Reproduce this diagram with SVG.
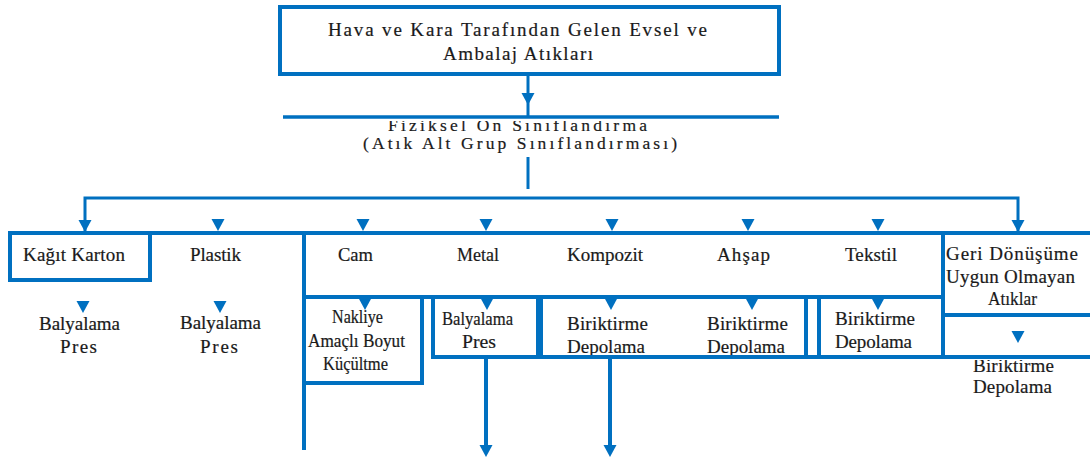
<svg xmlns="http://www.w3.org/2000/svg" xmlns:xlink="http://www.w3.org/1999/xlink" width="1090" height="458" viewBox="0 0 1090 458">
<style>
.txt text{font-family:'Liberation Serif','DejaVu Serif',serif;font-size:19px;fill:#1a1a1a;stroke:#1a1a1a;stroke-width:0.2px}
.txt text.c{font-size:18px}
.txt text.s{font-size:17.5px}
.box{fill:none;stroke:#0070C0;stroke-width:4}
.ln{fill:none;stroke:#0070C0;stroke-width:3.5}
.th{fill:none;stroke:#0070C0;stroke-width:3}
.tri{fill:#0070C0}
</style>
<defs>
<path id="t" class="tri" d="M-6.5,0 L6.5,0 L0,12 Z"/>
<clipPath id="clipTop"><rect x="0" y="121" width="1090" height="40"/></clipPath>
<clipPath id="clipG"><rect x="945" y="360" width="145" height="60"/></clipPath>
<clipPath id="clipB"><rect x="430" y="290" width="520" height="65"/></clipPath>
</defs>
<rect width="1090" height="458" fill="#fff"/>
<g class="txt" font-family="Liberation Serif, DejaVu Serif, serif">

<g id="source">
<rect class="box" x="280" y="7" width="499" height="67"/>
<text x="328" y="36" textLength="379" lengthAdjust="spacing">Hava ve Kara Tarafından Gelen Evsel ve</text>
<text x="443" y="60" textLength="150" lengthAdjust="spacing">Ambalaj Atıkları</text>
</g>

<g id="classification">
<text class="s" x="388" y="131" textLength="259" lengthAdjust="spacing" clip-path="url(#clipTop)">Fiziksel Ön Sınıflandırma</text>
<text class="s" x="363" y="149" textLength="314" lengthAdjust="spacing">(Atık Alt Grup Sınıflandırması)</text>
</g>

<g id="kagit">
<rect class="box" x="10" y="233" width="140" height="47"/>
<text x="23" y="261" textLength="102" lengthAdjust="spacing">Kağıt Karton</text>
<use xlink:href="#t" x="83" y="301"/>
<text x="39" y="330" textLength="81" lengthAdjust="spacing">Balyalama</text>
<text x="60" y="353" textLength="37" lengthAdjust="spacing">Pres</text>
</g>

<g id="plastik">
<text x="190" y="261" textLength="51" lengthAdjust="spacing">Plastik</text>
<use xlink:href="#t" x="220" y="301"/>
<text x="180" y="329" textLength="81" lengthAdjust="spacing">Balyalama</text>
<text x="200" y="353" textLength="38" lengthAdjust="spacing">Pres</text>
</g>

<g id="cam">
<text x="338" y="261" textLength="35" lengthAdjust="spacingAndGlyphs">Cam</text>
<rect class="box" x="304" y="297" width="118" height="86"/>
<text class="c" x="332" y="323" textLength="51" lengthAdjust="spacingAndGlyphs">Nakliye</text>
<text class="c" x="308" y="347" textLength="97" lengthAdjust="spacingAndGlyphs">Amaçlı Boyut</text>
<text class="c" x="323" y="370" textLength="65" lengthAdjust="spacingAndGlyphs">Küçültme</text>
</g>

<g id="metal">
<text x="457" y="261" textLength="42" lengthAdjust="spacingAndGlyphs">Metal</text>
<rect class="box" x="433" y="297" width="105" height="60"/>
<text class="c" x="442" y="325" textLength="71" lengthAdjust="spacingAndGlyphs">Balyalama</text>
<text class="c" x="462" y="348" textLength="34" lengthAdjust="spacingAndGlyphs">Pres</text>
</g>

<g id="kompozit-ahsap">
<text x="567" y="261" textLength="76" lengthAdjust="spacing">Kompozit</text>
<text x="717" y="261" textLength="53" lengthAdjust="spacing">Ahşap</text>
<rect class="box" x="541" y="297" width="265" height="60"/>
<g clip-path="url(#clipB)">
<text x="567" y="330" textLength="81" lengthAdjust="spacing">Biriktirme</text>
<text x="567" y="353" textLength="78" lengthAdjust="spacing">Depolama</text>
<text x="707" y="330" textLength="81" lengthAdjust="spacing">Biriktirme</text>
<text x="707" y="353" textLength="78" lengthAdjust="spacing">Depolama</text>
</g>
</g>

<g id="tekstil">
<text x="845" y="261" textLength="52" lengthAdjust="spacing">Tekstil</text>
<rect class="box" x="819" y="297" width="124" height="60"/>
<text x="835" y="325" textLength="80" lengthAdjust="spacing">Biriktirme</text>
<text x="835" y="348" textLength="77" lengthAdjust="spacing">Depolama</text>
</g>

<g id="geri">
<text x="946" y="260" textLength="132" lengthAdjust="spacing">Geri Dönüşüme</text>
<text x="946" y="283" textLength="129" lengthAdjust="spacing">Uygun Olmayan</text>
<text x="988" y="305" textLength="49" lengthAdjust="spacingAndGlyphs">Atıklar</text>
<text x="973" y="372" textLength="81" lengthAdjust="spacing" clip-path="url(#clipG)">Biriktirme</text>
<text x="973" y="393" textLength="79" lengthAdjust="spacing">Depolama</text>
</g>
</g>

<g id="connectors">
<line class="th" x1="528" y1="74" x2="528" y2="117"/>
<use xlink:href="#t" x="528" y="93"/>
<line class="ln" x1="283" y1="117" x2="779" y2="117"/>
<line class="th" x1="528" y1="157" x2="528" y2="189"/>
<polyline class="th" points="85,231 85,198 1018,198 1018,231"/>
<use xlink:href="#t" x="85" y="220"/>
<use xlink:href="#t" x="1018" y="220"/>
<use xlink:href="#t" x="218" y="219"/>
<use xlink:href="#t" x="363" y="219"/>
<use xlink:href="#t" x="486" y="219"/>
<use xlink:href="#t" x="612" y="219"/>
<use xlink:href="#t" x="748" y="219"/>
<use xlink:href="#t" x="878" y="219"/>
<line class="box" x1="150" y1="233" x2="1090" y2="233"/>
<line class="box" x1="304" y1="233" x2="304" y2="450"/>
<line class="box" x1="304" y1="297" x2="943" y2="297"/>
<line class="box" x1="943" y1="233" x2="943" y2="357"/>
<line class="box" x1="943" y1="315" x2="1090" y2="315"/>
<line class="box" x1="433" y1="357" x2="1090" y2="357"/>
<use xlink:href="#t" x="365" y="298"/>
<use xlink:href="#t" x="487" y="298"/>
<use xlink:href="#t" x="611" y="298"/>
<use xlink:href="#t" x="752" y="298"/>
<use xlink:href="#t" x="878" y="298"/>
<use xlink:href="#t" x="1018" y="331"/>
<line class="box" x1="486" y1="357" x2="486" y2="446"/>
<use xlink:href="#t" x="486" y="445"/>
<line class="box" x1="610" y1="357" x2="610" y2="446"/>
<use xlink:href="#t" x="610" y="445"/>
</g>
</svg>
